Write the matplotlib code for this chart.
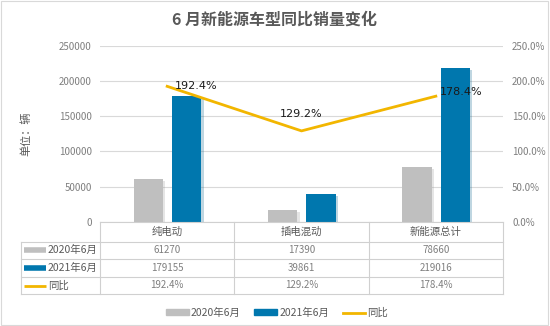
import matplotlib.pyplot as plt
import matplotlib.patheffects as pe
from matplotlib.lines import Line2D
from matplotlib.patches import Patch, Rectangle
import numpy as np

plt.rcParams['font.family'] = ['Noto Sans CJK SC', 'DejaVu Sans']

categories = ['纯电动', '插电混动', '新能源总计']
sales_2020 = [61270, 17390, 78660]
sales_2021 = [179155, 39861, 219016]
yoy = [192.4, 129.2, 178.4]
series_names = ['2020年6月', '2021年6月', '同比']

GREY = '#BFBFBF'
BLUE = '#0077AE'
GOLD = '#F2B600'
TXT = '#7F7F7F'
GRID = '#D9D9D9'

W, H = 550, 326
fig = plt.figure(figsize=(W / 100, H / 100), dpi=100)
fig.patches.append(Rectangle((0.002, 0.003), 0.995, 0.994, transform=fig.transFigure,
                             fill=False, edgecolor='#D9D9D9', lw=0.8))

ax_l, ax_r, ax_t, ax_b = 100, 503, 45.7, 222
ax = fig.add_axes([ax_l / W, 1 - ax_b / H, (ax_r - ax_l) / W, (ax_b - ax_t) / H])
ax2 = ax.twinx()

x = np.arange(len(categories))
bw = 0.22
shadow = [pe.SimplePatchShadow(offset=(1.5, -1.5), alpha=0.25, rho=0.8), pe.Normal()]
ax.bar(x - 0.14, sales_2020, bw, color=GREY, path_effects=shadow, zorder=3)
ax.bar(x + 0.145, sales_2021, bw, color=BLUE, path_effects=shadow, zorder=3)

ax.set_xlim(-0.5, 2.5)
ax.set_ylim(0, 250000)
ax.set_yticks(np.arange(0, 250001, 50000))
ax.grid(axis='y', color=GRID, lw=0.8, zorder=0)
ax.set_axisbelow(True)
ax.set_xticks([])
for s in ax.spines.values():
    s.set_visible(False)
for s in ax2.spines.values():
    s.set_visible(False)
ax.tick_params(axis='y', length=0, labelsize=7, labelcolor=TXT, pad=6)

ax2.plot(x, yoy, color=GOLD, lw=2, zorder=4)
ax2.set_ylim(0, 250)
ax2.set_yticks(np.arange(0, 251, 50))
ax2.set_yticklabels([f'{v:.1f}%' for v in np.arange(0, 251, 50)])
ax2.tick_params(axis='y', length=0, labelsize=7, labelcolor=TXT, pad=6.5)

offsets = [(21, 0), (0, 12), (18, 3)]
for xi, v, off in zip(x, yoy, offsets):
    ax2.annotate(f'{v}%', (xi, v), xytext=off, textcoords='offset points',
                 ha='center', va='center', fontsize=8, color='#1A1A1A',
                 family=['DejaVu Sans'], zorder=5)

ax.set_ylabel('单位：辆', fontsize=8, color='#595959', labelpad=20)

fig.text(274 / W, 1 - 20 / H, '6 月新能源车型同比销量变化', ha='center', va='center',
         fontsize=11.5, fontweight='bold', color='#595959')

# data table under the axis
rows_y = [222, 241.5, 259, 277, 294]
lab_l = 21
def fy(p):
    return 1 - p / H
def fx(p):
    return p / W
tcol = '#D0D0D0'
for yy in rows_y[1:]:
    fig.add_artist(Line2D([fx(lab_l), fx(ax_r)], [fy(yy), fy(yy)], color=tcol, lw=0.8))
fig.add_artist(Line2D([fx(ax_l), fx(ax_r)], [fy(rows_y[0]), fy(rows_y[0])], color=tcol, lw=0.8))
cw = (ax_r - ax_l) / len(categories)
for i in range(len(categories) + 1):
    xx = ax_l + i * cw
    fig.add_artist(Line2D([fx(xx), fx(xx)], [fy(rows_y[0]), fy(rows_y[-1])], color=tcol, lw=0.8))
fig.add_artist(Line2D([fx(lab_l), fx(lab_l)], [fy(rows_y[1]), fy(rows_y[-1])], color=tcol, lw=0.8))

table_rows = [
    [str(v) for v in sales_2020],
    [str(v) for v in sales_2021],
    [f'{v}%' for v in yoy],
]
for i, c in enumerate(categories):
    cx = ax_l + (i + 0.5) * cw
    fig.text(fx(cx), fy((rows_y[0] + rows_y[1]) / 2), c, ha='center', va='center',
             fontsize=7.5, color='#595959')
    for r, vals in enumerate(table_rows):
        fig.text(fx(cx), fy((rows_y[r + 1] + rows_y[r + 2]) / 2), vals[i], ha='center',
                 va='center', fontsize=7, color=TXT)

key_styles = [(GREY, 4), (BLUE, 4), (GOLD, 2)]
for r, (name, (col, lw)) in enumerate(zip(series_names, key_styles)):
    yy = fy((rows_y[r + 1] + rows_y[r + 2]) / 2)
    fig.add_artist(Line2D([fx(24), fx(46)], [yy, yy], color=col, lw=lw, solid_capstyle='butt'))
    fig.text(fx(48), yy, name, ha='left', va='center', fontsize=7.5, color='#595959')

handles = [Patch(color=GREY), Patch(color=BLUE), Line2D([], [], color=GOLD, lw=2)]
fig.legend(handles, series_names, loc='center', bbox_to_anchor=(277 / W, fy(313)),
           ncol=3, frameon=False, fontsize=7.5, labelcolor='#595959',
           handlelength=2.2, handleheight=0.5, handletextpad=0.2, columnspacing=1.3)

fig.savefig('out.png', dpi=100)
